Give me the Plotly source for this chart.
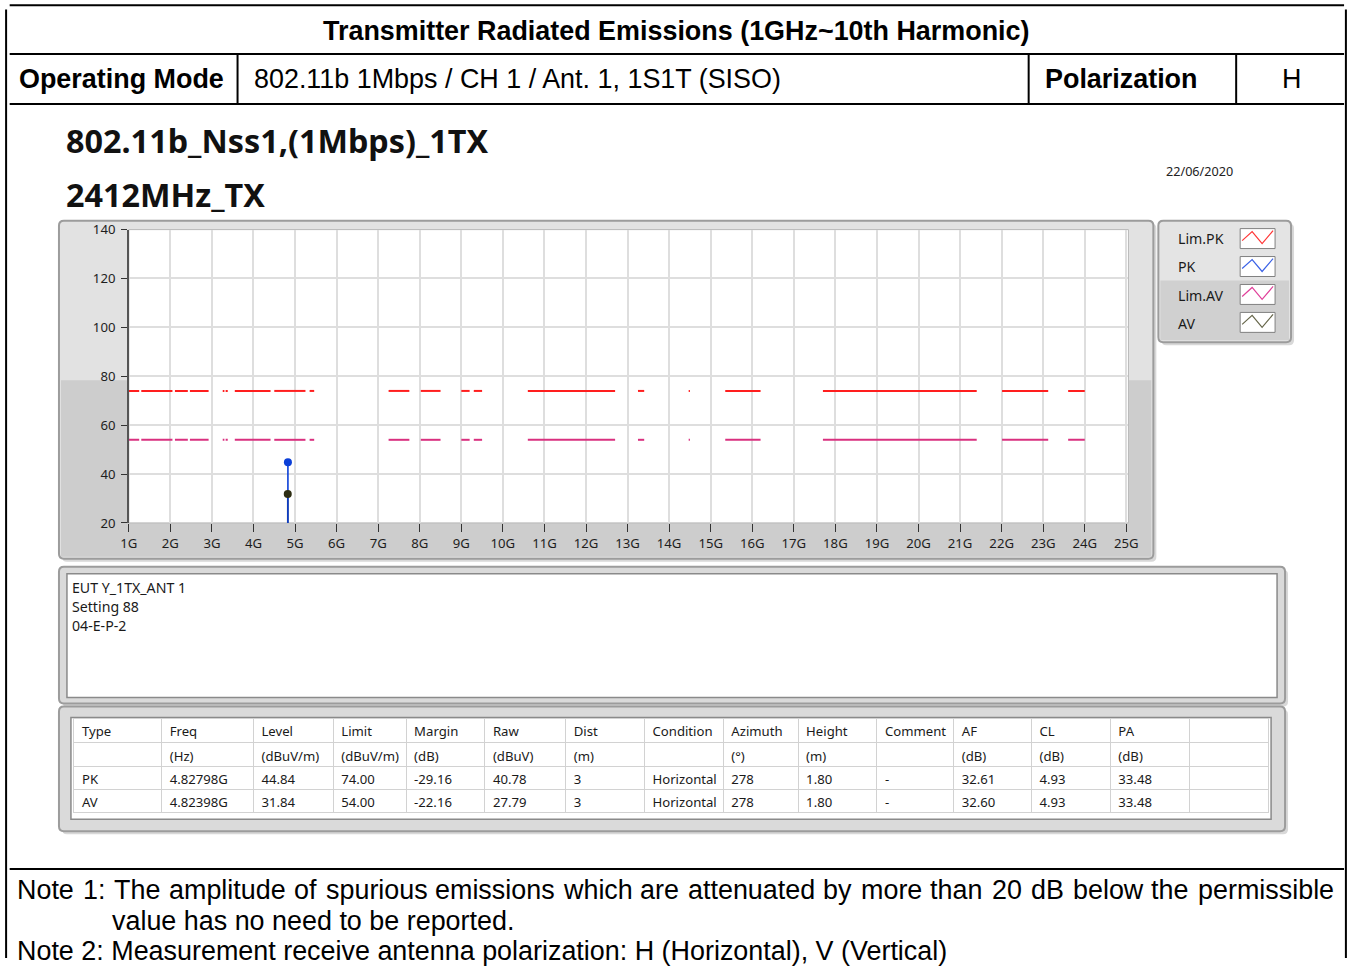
import plotly.graph_objects as go

# Page geometry: the graph div sits inside the body's 8 px margin of a
# 1371x983 viewport that is saved as a 1355x967 image.  All layout positions
# below are written in final-image pixels and converted to paper fractions.
VIEW_W, VIEW_H = 1371, 983
IMG_W, IMG_H = 1355, 967
BODY_MARGIN = 8
SX, SY = IMG_W / VIEW_W, IMG_H / VIEW_H
FIG_W, FIG_H = 1355, 967
FS = 1 / SX  # font-size compensation

# ---- limit lines: restricted-band segments (GHz) ----
band_start = [1.00, 1.30, 2.11, 2.47, 3.26, 3.33, 3.55, 4.50, 5.35, 7.25, 8.025, 9.00, 9.30,
              10.60, 13.25, 14.47, 15.35, 17.70, 22.01, 23.60]
band_stop = [1.25, 2.05, 2.42, 2.92, 3.30, 3.38, 4.41, 5.25, 5.46, 7.75, 8.50, 9.20, 9.50,
             12.70, 13.40, 14.50, 16.20, 21.40, 23.12, 24.00]
limit_pk = 74.0
limit_av = 54.0

# ---- measured emissions ----
det_type = ["PK", "AV"]
freq_ghz = [4.82798, 4.82398]
level = [44.84, 31.84]
limit = [74.00, 54.00]
margin = [-29.16, -22.16]
raw = [40.78, 27.79]
dist = [3, 3]
condition = ["Horizontal", "Horizontal"]
azimuth = [278, 278]
height_m = [1.80, 1.80]
comment = ["-", "-"]
af = [32.61, 32.60]
cl = [4.93, 4.93]
pa = [33.48, 33.48]

# ---- axes ----
x_ticks = list(range(1, 26))
x_tick_text = [f"{v}G" for v in x_ticks]
y_ticks = [20, 40, 60, 80, 100, 120, 140]

# ---- table header ----
col_names = ["Type", "Freq", "Level", "Limit", "Margin", "Raw", "Dist", "Condition",
             "Azimuth", "Height", "Comment", "AF", "CL", "PA", ""]
col_units = ["", "(Hz)", "(dBuV/m)", "(dBuV/m)", "(dB)", "(dBuV)", "(m)", "",
             "(°)", "(m)", "", "(dB)", "(dB)", "(dB)", ""]
col_edges = [73, 161, 253, 333, 406, 485, 566, 645, 724, 799, 878, 955, 1033, 1112, 1191, 1271]

NOTE_1 = "Note 1: The amplitude of spurious emissions which are attenuated by more than 20 dB below the permissible"
NOTE_1B = "value has no need to be reported."
NOTE_2 = "Note 2: Measurement receive antenna polarization: H (Horizontal), V (Vertical)"

UI_FONT = "Noto Sans"
DOC_FONT = "Liberation Sans"
DOC_SIZE = 26.6 * FS
UI_SIZE = 13 * FS
BOX_SIZE = 14 * FS
HEAD_SIZE = 32 * FS

RED = "#ff1e1e"
PINK = "#d9307f"
BLUE = "#0b3fd8"
OLIVE = "#2d2d12"

# Liberation Sans / Arial advance widths (1/1000 em) used to justify the note line
ARIAL_W = {" ": 278, "N": 722, "o": 556, "t": 278, "e": 556, "1": 556, ":": 278, "T": 611,
           "h": 556, "a": 556, "m": 833, "p": 556, "l": 222, "i": 222, "u": 556, "d": 556,
           "f": 278, "s": 500, "r": 333, "c": 500, "w": 722, "n": 556, "b": 556, "y": 500,
           "2": 556, "0": 556, "B": 667}


def X(px):
    return (px / SX - BODY_MARGIN) / FIG_W


def Y(py):
    return 1 - (py / SY - BODY_MARGIN) / FIG_H


def segments(starts, stops, lvl):
    xs, ys = [], []
    for a, b in zip(starts, stops):
        xs += [a, b, None]
        ys += [lvl, lvl, None]
    return xs, ys


fig = go.Figure()

# limit lines
xs, ys = segments(band_start, band_stop, limit_pk)
fig.add_trace(go.Scatter(x=xs, y=ys, mode="lines", line=dict(color=RED, width=2),
                         name="Lim.PK", hoverinfo="skip"))
xs, ys = segments(band_start, band_stop, limit_av)
fig.add_trace(go.Scatter(x=xs, y=ys, mode="lines", line=dict(color=PINK, width=2),
                         name="Lim.AV", hoverinfo="skip"))

# stems from the bottom of the scale up to each reading (AV first, PK on top)
floor = y_ticks[0]
fig.add_trace(go.Scatter(x=[freq_ghz[1], freq_ghz[1]], y=[floor, level[1]], mode="lines",
                         line=dict(color=OLIVE, width=1.6), name="AV stem"))
fig.add_trace(go.Scatter(x=[freq_ghz[0], freq_ghz[0]], y=[floor, level[0]], mode="lines",
                         line=dict(color=BLUE, width=1.6), name="PK stem"))
fig.add_trace(go.Scatter(x=[freq_ghz[0]], y=[level[0]], mode="markers",
                         marker=dict(color=BLUE, size=8), name="PK"))
fig.add_trace(go.Scatter(x=[freq_ghz[1]], y=[level[1]], mode="markers",
                         marker=dict(color=OLIVE, size=8), name="AV"))

# result table
fmt2 = lambda v: f"{v:.2f}"
rows = [
    det_type,
    [f"{f:.5f}G" for f in freq_ghz],
    [fmt2(v) for v in level],
    [fmt2(v) for v in limit],
    [fmt2(v) for v in margin],
    [fmt2(v) for v in raw],
    [str(v) for v in dist],
    condition,
    [str(v) for v in azimuth],
    [fmt2(v) for v in height_m],
    comment,
    [fmt2(v) for v in af],
    [fmt2(v) for v in cl],
    [fmt2(v) for v in pa],
    ["", ""],
]
cell_values = [[u] + r for u, r in zip(col_units, rows)]
col_widths = [b - a for a, b in zip(col_edges[:-1], col_edges[1:])]
fig.add_trace(go.Table(
    domain=dict(x=[X(col_edges[0]), X(col_edges[-1])], y=[Y(818), Y(719)]),
    columnwidth=col_widths,
    header=dict(values=col_names, height=24 / SY, align="left",
                fill_color="white", line=dict(color="#d2d2d2", width=1),
                font=dict(family=UI_FONT, size=UI_SIZE, color="#1a1a1a")),
    cells=dict(values=cell_values, height=23 / SY, align="left",
               fill_color="white", line=dict(color="#d2d2d2", width=1),
               font=dict(family=UI_FONT, size=UI_SIZE, color="#1a1a1a")),
))

# ---- decorative panels / frame ----
shapes = []


def rect(x0, y0, x1, y1, fill=None, line=None, lw=1):
    shapes.append(dict(type="rect", xref="paper", yref="paper", layer="below",
                       x0=X(x0), x1=X(x1), y0=Y(y1), y1=Y(y0),
                       fillcolor=fill or "rgba(0,0,0,0)",
                       line=dict(color=line or "rgba(0,0,0,0)", width=lw if line else 0)))


def rpanel(x0, y0, x1, y1, r, fill, line=None, lw=1.5):
    p = (f"M {X(x0 + r)},{Y(y0)} L {X(x1 - r)},{Y(y0)} Q {X(x1)},{Y(y0)} {X(x1)},{Y(y0 + r)} "
         f"L {X(x1)},{Y(y1 - r)} Q {X(x1)},{Y(y1)} {X(x1 - r)},{Y(y1)} "
         f"L {X(x0 + r)},{Y(y1)} Q {X(x0)},{Y(y1)} {X(x0)},{Y(y1 - r)} "
         f"L {X(x0)},{Y(y0 + r)} Q {X(x0)},{Y(y0)} {X(x0 + r)},{Y(y0)} Z")
    shapes.append(dict(type="path", xref="paper", yref="paper", layer="below", path=p,
                       fillcolor=fill,
                       line=dict(color=line or "rgba(0,0,0,0)", width=lw if line else 0)))


def hline(x0, x1, y, color="black", lw=2):
    shapes.append(dict(type="line", xref="paper", yref="paper", layer="above",
                       x0=max(X(x0), 0.0005), x1=min(X(x1), 0.9993), y0=Y(y), y1=Y(y),
                       line=dict(color=color, width=lw)))


def vline(x, y0, y1, color="black", lw=2):
    shapes.append(dict(type="line", xref="paper", yref="paper", layer="above",
                       x0=X(x), x1=X(x), y0=max(Y(y1), 0.0), y1=min(Y(y0), 0.9995),
                       line=dict(color=color, width=lw)))


# chart panel
rpanel(61, 223, 1158, 562, 5, "#d8d8d8")
rpanel(58, 220, 1155, 559, 5, "#e2e2e2", "#9c9c9c", 2)
rect(60, 380, 1153, 557, fill="#cdcdcd")
rect(128, 229, 1130, 523, fill="white", line="#b8b8b8", lw=1)

# legend panel
rpanel(1163, 223, 1296, 345, 5, "#d8d8d8")
rpanel(1160, 220, 1293, 342, 5, "#e4e4e4", "#9c9c9c", 2)
rect(1162, 280, 1291, 340, fill="#d0d0d0")

# comment box panel
rpanel(61, 570, 1290, 707, 5, "#d8d8d8")
rpanel(58, 567, 1287, 704, 5, "#dadada", "#9c9c9c", 2)
rect(66, 574, 1279, 698, fill="white", line="#8a8a8a", lw=1.5)

# table panel
rpanel(61, 710, 1290, 835, 5, "#d8d8d8")
rpanel(58, 707, 1287, 832, 5, "#dadada", "#9c9c9c", 2)
rect(70, 718, 1273, 820, fill="white", line="#8a8a8a", lw=1.5)

# legend swatches with zigzag samples
legend_names = ["Lim.PK", "PK", "Lim.AV", "AV"]
legend_colors = ["#ff3535", "#3b62e6", "#e0409a", "#66664a"]
legend_rows = [228, 256, 284, 312]
for top, col in zip(legend_rows, legend_colors):
    rect(1242, top, 1277, top + 20, fill="white", line="#808080", lw=1)
    pts = [(1244, top + 12), (1254, top + 3), (1264, top + 15), (1275, top + 2)]
    path = "M " + " L ".join(f"{X(a)},{Y(b)}" for a, b in pts)
    shapes.append(dict(type="path", xref="paper", yref="paper", layer="above", path=path,
                       line=dict(color=col, width=1.2)))

# document frame
hline(5, 1349, 4)
hline(5, 1349, 53)
hline(5, 1349, 103)
hline(5, 1349, 870)
vline(5, 4, 967)
vline(1348, 4, 967)
for xv in (237, 1030, 1238):
    vline(xv, 53, 103)

# ---- text ----
ann = []


def text(s, x, y, size, family=UI_FONT, anchor="left", color="#111111"):
    ann.append(dict(text=s, x=X(x), y=Y(y), xref="paper", yref="paper", showarrow=False,
                    xanchor=anchor, yanchor="middle", borderpad=0,
                    font=dict(family=family, size=size, color=color)))


def justified(line, x0, x1, y, size):
    words = line.split(" ")
    widths = [sum(ARIAL_W[c] for c in w) * size * SX / 1000 for w in words]
    gap = (x1 - x0 - sum(widths)) / (len(words) - 1)
    x = x0
    for w, wd in zip(words, widths):
        text(w, x, y, size, DOC_FONT, "left", "black")
        x += wd + gap


text("<b>Transmitter Radiated Emissions (1GHz~10th Harmonic)</b>", 676.5, 30, DOC_SIZE, DOC_FONT, "center", "black")
text("<b>Operating Mode</b>", 121, 78.5, DOC_SIZE, DOC_FONT, "center", "black")
text("802.11b 1Mbps / CH 1 / Ant. 1, 1S1T (SISO)", 252, 78.5, DOC_SIZE, DOC_FONT, "left", "black")
text("<b>Polarization</b>", 1045, 78.5, DOC_SIZE, DOC_FONT, "left", "black")
text("H", 1293, 78.5, DOC_SIZE, DOC_FONT, "center", "black")

text("<b>802.11b_Nss1,(1Mbps)_1TX</b>", 64, 139, HEAD_SIZE, UI_FONT, "left", "#111111")
text("<b>2412MHz_TX</b>", 64, 193, HEAD_SIZE, UI_FONT, "left", "#111111")
text("22/06/2020", 1201, 170, 12.5 * FS, UI_FONT, "center", "#222222")

for name, yv in zip(legend_names, [238, 266, 295, 323]):
    text(name, 1179, yv, BOX_SIZE, UI_FONT, "left", "#1a1a1a")

for line_txt, yv in zip(["EUT Y_1TX_ANT 1", "Setting 88", "04-E-P-2"], [588, 607, 626]):
    text(line_txt, 70, yv, BOX_SIZE, UI_FONT, "left", "#1a1a1a")

justified(NOTE_1, 15, 1333, 890.5, DOC_SIZE)
text(NOTE_1B, 110, 922.5, DOC_SIZE, DOC_FONT, "left", "black")
text(NOTE_2, 15, 952, DOC_SIZE, DOC_FONT, "left", "black")

fig.update_layout(
    width=FIG_W, height=FIG_H, margin=dict(l=0, r=0, t=0, b=0, pad=0),
    paper_bgcolor="white", plot_bgcolor="white",
    showlegend=False, shapes=shapes, annotations=ann,
    xaxis=dict(domain=[X(128), X(1130)], range=[1, 25.05], tickvals=x_ticks, ticktext=x_tick_text,
               showgrid=True, gridcolor="#dedede", gridwidth=1.5, zeroline=False,
               ticks="outside", ticklen=8, tickwidth=1.2, tickcolor="#333333",
               showline=False, fixedrange=True,
               tickfont=dict(family=UI_FONT, size=UI_SIZE, color="#1e1e1e")),
    yaxis=dict(domain=[Y(523), Y(229)], range=[20, 140], tickvals=y_ticks,
               showgrid=True, gridcolor="#dedede", gridwidth=1.5, zeroline=False,
               ticks="outside", ticklen=6, tickwidth=1.2, tickcolor="#333333",
               showline=True, linecolor="#555555", linewidth=1.5, fixedrange=True,
               ticklabelstandoff=3,
               tickfont=dict(family=UI_FONT, size=UI_SIZE, color="#1e1e1e")),
)

fig.write_html("out.html", config={"displayModeBar": False})
